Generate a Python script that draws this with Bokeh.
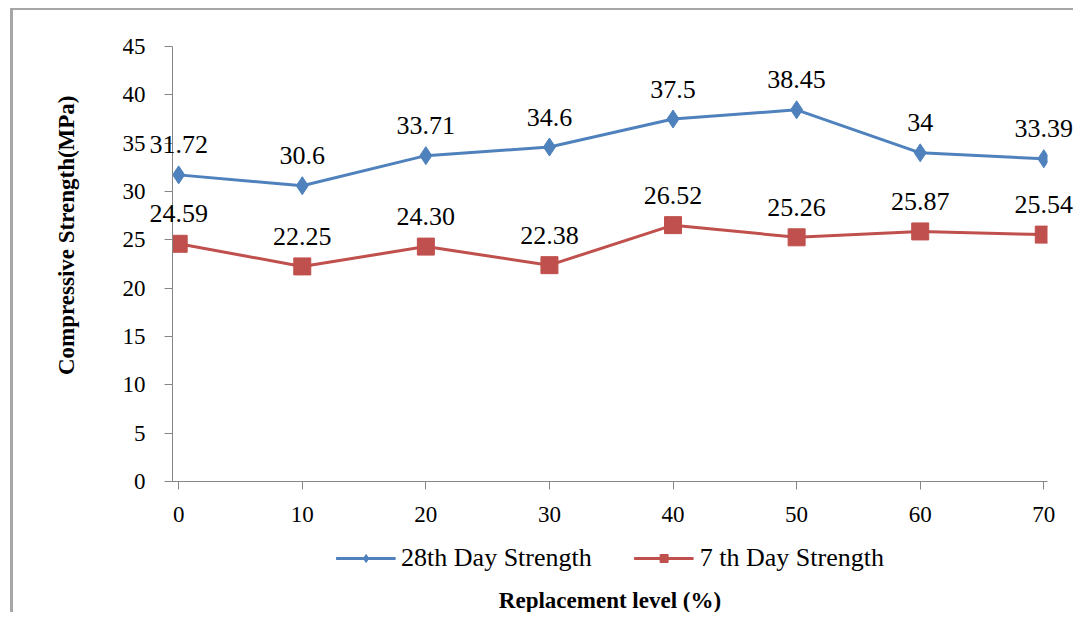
from bokeh.plotting import figure
from bokeh.models import Range1d, FixedTicker, Legend, LegendItem, ColumnDataSource, Title
from bokeh.layouts import column
from bokeh.core.properties import value
from bokeh.embed import file_html
from bokeh.resources import INLINE

replacement = [0, 10, 20, 30, 40, 50, 60, 70]
strength_28 = [31.72, 30.6, 33.71, 34.6, 37.5, 38.45, 34, 33.39]
labels_28 = ["31.72", "30.6", "33.71", "34.6", "37.5", "38.45", "34", "33.39"]
strength_7 = [24.59, 22.25, 24.30, 22.38, 26.52, 25.26, 25.87, 25.54]
labels_7 = ["24.59", "22.25", "24.30", "22.38", "26.52", "25.26", "25.87", "25.54"]
y_ticks = [0, 5, 10, 15, 20, 25, 30, 35, 40, 45]
series_names = ["28th Day Strength", "7 th Day Strength"]
y_title = "Compressive Strength(MPa)"
x_title = "Replacement level (%)"

BLUE = "#4F81BD"
RED = "#C0504D"
FONT = "Liberation Serif"

src28 = ColumnDataSource(dict(x=replacement, y=strength_28, t=labels_28))
src7 = ColumnDataSource(dict(x=replacement, y=strength_7, t=labels_7))

# ---- main chart ----
p = figure(width=1060, height=530, output_backend="svg", toolbar_location=None,
           x_range=Range1d(-0.5, 70.3), y_range=Range1d(0, 45),
           min_border_left=159, min_border_right=26, min_border_top=36, min_border_bottom=59)
p.outline_line_color = None
p.background_fill_color = "white"
p.border_fill_color = "white"
p.xgrid.grid_line_color = None
p.ygrid.grid_line_color = None

for ax in (p.xaxis[0], p.yaxis[0]):
    ax.axis_line_color = "#868686"
    ax.major_tick_line_color = "#868686"
    ax.minor_tick_line_color = None
    ax.major_tick_in = 0
    ax.major_tick_out = 8
    ax.major_label_text_font = FONT
    ax.major_label_text_font_size = "23px"
    ax.major_label_text_color = "black"

p.xaxis.ticker = FixedTicker(ticks=replacement)
p.yaxis.ticker = FixedTicker(ticks=y_ticks)
p.xaxis.major_label_standoff = 17
p.yaxis.major_label_standoff = 19

# y-axis title, placed a little above the frame's centre as in the original
p.add_layout(Title(text=y_title, align="right", offset=49, vertical_align="middle",
                   text_font=FONT, text_font_size="23px", text_font_style="bold",
                   text_color="black", standoff=79), "left")

p.line("x", "y", source=src28, line_color=BLUE, line_width=3)
p.scatter("x", "y", source=src28, marker="diamond", size=18, fill_color=BLUE, line_color=BLUE)
p.line("x", "y", source=src7, line_color=RED, line_width=3)
p.scatter("x", "y", source=src7, marker="square", size=17, fill_color=RED, line_color=RED)

for s in (src28, src7):
    p.text("x", "y", text="t", source=s, y_offset=-30, level="overlay",
           text_align="center", text_baseline="middle",
           text_font=value(FONT), text_font_size="26px", text_color="black")

# ---- legend + x-axis title strip (same series, ranges chosen so only the legend shows) ----
q = figure(width=1060, height=72, output_backend="svg", toolbar_location=None,
           x_range=Range1d(100, 101), y_range=Range1d(100, 101),
           x_axis_location=None, y_axis_location=None,
           min_border_left=26, min_border_right=0, min_border_top=0, min_border_bottom=0)
q.outline_line_color = None
q.xgrid.grid_line_color = None
q.ygrid.grid_line_color = None
ql28 = q.line("x", "y", source=src28, line_color=BLUE, line_width=3)
qm28 = q.scatter("x", "y", source=src28, marker="diamond", size=16, fill_color=BLUE, line_color=BLUE)
ql7 = q.line("x", "y", source=src7, line_color=RED, line_width=3)
qm7 = q.scatter("x", "y", source=src7, marker="square", size=16, fill_color=RED, line_color=RED)

legend = Legend(items=[LegendItem(label=series_names[0], renderers=[ql28, qm28]),
                       LegendItem(label=series_names[1], renderers=[ql7, qm7])],
                orientation="horizontal", location="top_center",
                label_text_font=FONT, label_text_font_size="26px", label_text_color="black",
                glyph_width=60, glyph_height=20, label_standoff=6, spacing=42,
                padding=4, margin=3, border_line_color=None, background_fill_alpha=0)
q.add_layout(legend, "center")
q.add_layout(Title(text=x_title, align="center", text_font=FONT,
                   text_font_size="23px", text_font_style="bold", text_color="black",
                   standoff=0, offset=0), "below")

layout = column(p, q, spacing=0,
                styles={"border-left": "3px solid #a6a6a6", "border-top": "2px solid #a6a6a6",
                        "margin-left": "10px", "margin-top": "8px"})

open("out.html", "w").write(file_html(layout, INLINE))
